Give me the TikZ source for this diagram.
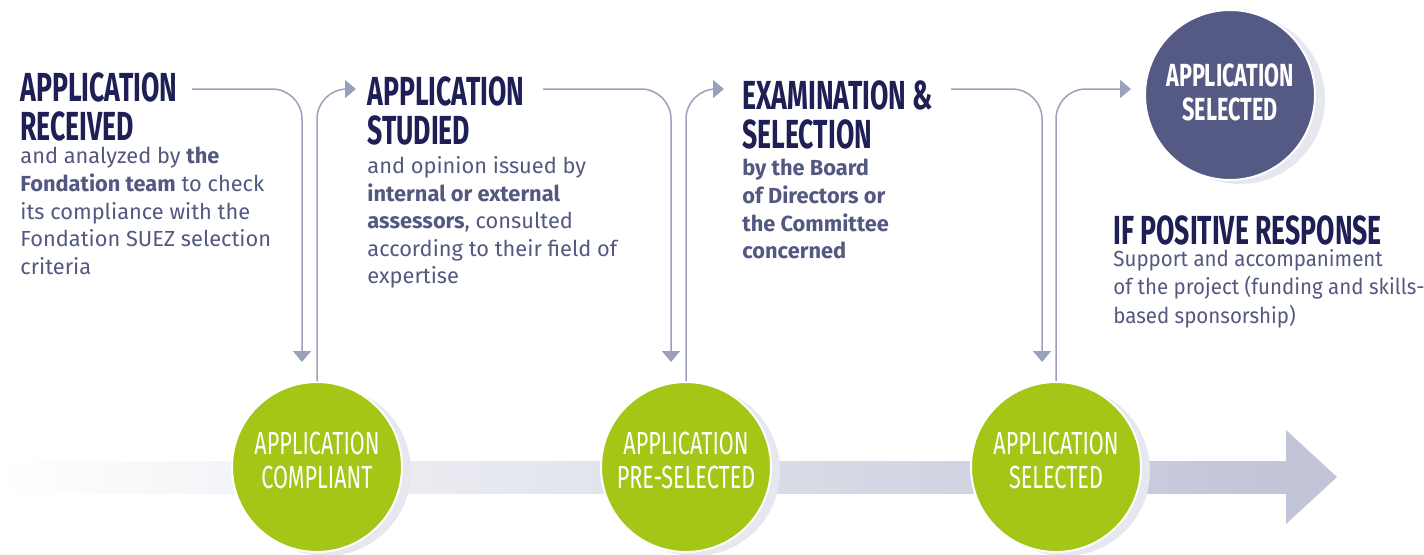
\documentclass[tikz,border=0pt]{standalone}
\usepackage{fontspec}
\setmainfont{Fira Sans}
\newfontfamily\headfont[FakeStretch=0.655]{Fira Sans}
\newfontfamily\discfont[FakeStretch=0.675]{Fira Sans}
\newfontfamily\narrowfont[FakeStretch=0.94]{Fira Sans}
\usetikzlibrary{arrows.meta}
\definecolor{navy}{HTML}{1E1F55}
\definecolor{bodytxt}{HTML}{535881}
\definecolor{plum}{HTML}{555A85}
\definecolor{leaf}{HTML}{A3C617}
\definecolor{linkc}{HTML}{9BA1BA}
\definecolor{band}{HTML}{C1C5D7}
\definecolor{halo}{HTML}{E6E7EF}

\begin{document}
\begin{tikzpicture}[x=0.5pt,y=-0.5pt,
    heading/.style={anchor=north west,inner sep=0pt,align=left,text=navy,
      font=\headfont\bfseries\fontsize{20.3}{19.5}\selectfont},
    blurb/.style={anchor=north west,inner sep=0pt,align=left,text=bodytxt,
      font=\fontsize{10.9}{13.8}\selectfont},
    disc/.style={circle,draw=white,line width=1pt,minimum size=85pt,inner sep=0pt},
    halodisc/.style={circle,fill=halo,minimum size=85pt,inner sep=0pt},
    disctext/.style={text=white,align=center,inner sep=0pt,
      font=\discfont\fontsize{16}{17}\selectfont},
    link/.style={draw=linkc,line width=0.75pt,rounded corners=15pt,
      -{Triangle[length=5.5pt,width=9pt]}}]
  \useasboundingbox (0,0) rectangle (1424,554);

  \shade[left color=white,right color=band] (0,461) rectangle (1287,493);
  \fill[band] (1286,430) -- (1337,477) -- (1286,524) -- cycle;

  \path
  (326,471) node[halodisc] (s1) {}
  (695,471) node[halodisc] (s2) {}
  (1065,471) node[halodisc] (s3) {}
  (1240,99) node[halodisc] (s4) {}
  (317,467) node[disc,fill=leaf] (c1) {}
  (686,467) node[disc,fill=leaf] (c2) {}
  (1056,467) node[disc,fill=leaf] (c3) {}
  (1230,95) node[disc,fill=plum] (c4) {}
  (317,460) node[disctext] (t1) {APPLICATION\\COMPLIANT}
  (686,460) node[disctext] (t2) {APPLICATION\\PRE-SELECTED}
  (1056,460) node[disctext] (t3) {APPLICATION\\SELECTED}
  (1230,92) node[disctext,font=\discfont\bfseries\fontsize{16}{17}\selectfont] (t4) {APPLICATION\\SELECTED}
  (20,72) node[heading] (h1) {APPLICATION\\RECEIVED}
  (367,76) node[heading] (h2) {APPLICATION\\STUDIED}
  (742,80) node[heading] (h3) {EXAMINATION \&\\SELECTION}
  (1113,215) node[heading] (h4) {IF POSITIVE RESPONSE}
  (20,147) node[blurb] (b1) {and analyzed by \textbf{the}\\\textbf{Fondation team} to check\\its compliance with the\\Fondation SUEZ selection\\criteria}
  (367,156) node[blurb] (b2) {and opinion issued by\\\textbf{internal or external}\\\textbf{assessors}, consulted\\according to their field of\\expertise}
  (742,159) node[blurb,font=\bfseries\fontsize{10.9}{13.8}\selectfont] (b3) {by the Board\\of Directors or\\the Committee\\concerned}
  (1113,249) node[blurb,font=\narrowfont\fontsize{10.9}{14.2}\selectfont] (b4) {Support and accompaniment\\of the project (funding and skills-\\based sponsorship)}
  ;

  \coordinate (r1) at (192,89);
  \coordinate (d1) at (302,362);
  \coordinate (a2) at (356,89);
  \coordinate (r2) at (543,89);
  \coordinate (d2) at (671,362);
  \coordinate (a3) at (724,89);
  \coordinate (r3) at (951,89);
  \coordinate (d3) at (1042,362);
  \coordinate (a4) at (1131,89);

  \draw[link] (r1) -| (d1);
  \draw[link] (c1.north) |- (a2);
  \draw[link] (r2) -| (d2);
  \draw[link] (c2.north) |- (a3);
  \draw[link] (r3) -| (d3);
  \draw[link] (c3.north) |- (a4);
\end{tikzpicture}
\end{document}
